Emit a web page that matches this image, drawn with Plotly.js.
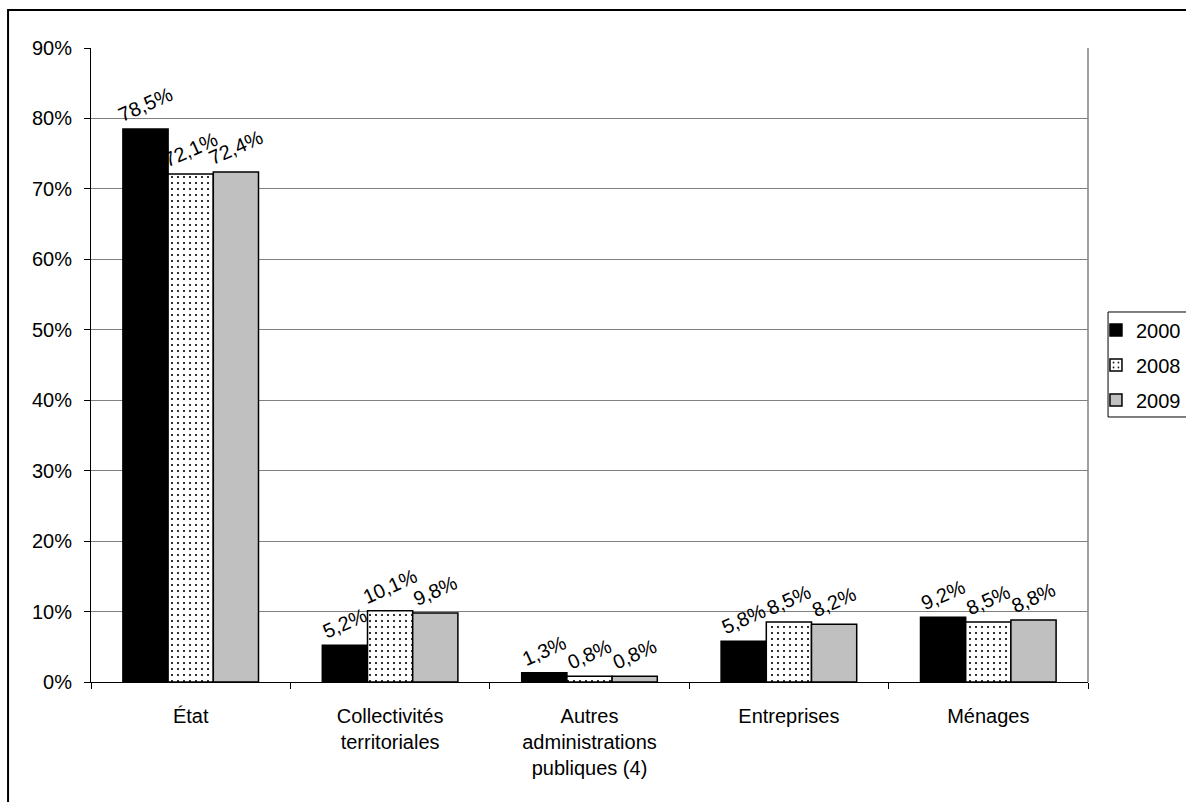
<!DOCTYPE html>
<html>
<head>
<meta charset="utf-8">
<script src="https://cdn.plot.ly/plotly-3.0.1.min.js"></script>
<style>
  html, body { margin: 0; padding: 0; background: #fff; }
  #chart { width: 1186px; height: 802px; }
</style>
</head>
<body>
<div id="chart"></div>
<script>
// Répartition des dépenses par financeur (en %)
const categories = [
  "État",
  "Collectivités<br>territoriales",
  "Autres<br>administrations<br>publiques (4)",
  "Entreprises",
  "Ménages"
];
const years = ["2000", "2008", "2009"];
const values2000 = [78.5, 5.2, 1.3, 5.8, 9.2];
const values2008 = [72.1, 10.1, 0.8, 8.5, 8.5];
const values2009 = [72.4, 9.8, 0.8, 8.2, 8.8];
const yTicks = [0, 10, 20, 30, 40, 50, 60, 70, 80, 90];

const FONT = "Liberation Sans, Arial, sans-serif";
const FS = 20;

function barTrace(name, vals, marker, group) {
  return {
    type: "bar",
    name: name,
    x: categories,
    y: vals,
    legendgroup: group,
    marker: Object.assign({ line: { color: "#000", width: 1.5 } }, marker),
    texttemplate: "%{y:.1f}%",
    textposition: "outside",
    textangle: -24,
    constraintext: "none",
    cliponaxis: false,
    textfont: { family: FONT, size: FS, color: "#000" },
    hoverinfo: "x+y"
  };
}

const data = [
  barTrace(years[0], values2000, { color: "#000000" }, "a"),
  barTrace(years[1], values2008, {
    color: "#ffffff",
    pattern: { shape: ".", fgcolor: "#000000", bgcolor: "#ffffff", size: 6, solidity: 0.1 }
  }, "b"),
  barTrace(years[2], values2009, { color: "#c0c0c0" }, "c")
];

const layout = {
  width: 1186,
  height: 802,
  separators: ", ",
  paper_bgcolor: "#ffffff",
  plot_bgcolor: "#ffffff",
  font: { family: FONT, size: FS, color: "#000" },
  margin: { l: 91, r: 98, t: 48, b: 120, autoexpand: false },
  barmode: "group",
  bargap: 0.32,
  bargroupgap: 0,
  showlegend: true,
  legend: {
    x: 1.008, xanchor: "left",
    y: 0.5, yanchor: "middle",
    bgcolor: "rgba(0,0,0,0)",
    borderwidth: 0,
    font: { family: FONT, size: FS, color: "#000" },
    traceorder: "grouped",
    tracegroupgap: 6,
    itemwidth: 30
  },
  xaxis: {
    type: "category",
    showgrid: false,
    showline: true,
    linecolor: "#000",
    linewidth: 1,
    ticks: "outside",
    tickson: "boundaries",
    ticklen: 6,
    tickcolor: "#000",
    ticklabelstandoff: 16,
    tickfont: { family: FONT, size: FS, color: "#000" },
    fixedrange: true
  },
  yaxis: {
    range: [0, 90],
    tickvals: yTicks,
    ticktext: yTicks.map(v => v + "%"),
    showgrid: true,
    gridcolor: "#808080",
    gridwidth: 1,
    showline: true,
    linecolor: "#000",
    linewidth: 1,
    ticks: "outside",
    ticklen: 6,
    tickcolor: "#000",
    ticklabelstandoff: 8,
    zeroline: false,
    tickfont: { family: FONT, size: FS, color: "#000" },
    fixedrange: true
  },
  shapes: [
    // right edge of the plotting area
    { type: "line", xref: "paper", yref: "paper", x0: 1, x1: 1, y0: 0, y1: 1,
      line: { color: "#808080", width: 1.5 } },
    // legend frame
    { type: "rect", xref: "paper", yref: "paper", x0: 1.0201, x1: 1.2, y0: 0.418, y1: 0.5836,
      line: { color: "#000", width: 1 }, fillcolor: "#ffffff", layer: "below" },
    // chart frame
    { type: "rect", xref: "paper", yref: "paper", x0: -0.0832, x1: 1.2, y0: -0.5, y1: 1.0599,
      line: { color: "#000", width: 2 }, fillcolor: "rgba(0,0,0,0)", layer: "below" }
  ]
};

Plotly.newPlot("chart", data, layout, { displayModeBar: false, staticPlot: true });
</script>
</body>
</html>
